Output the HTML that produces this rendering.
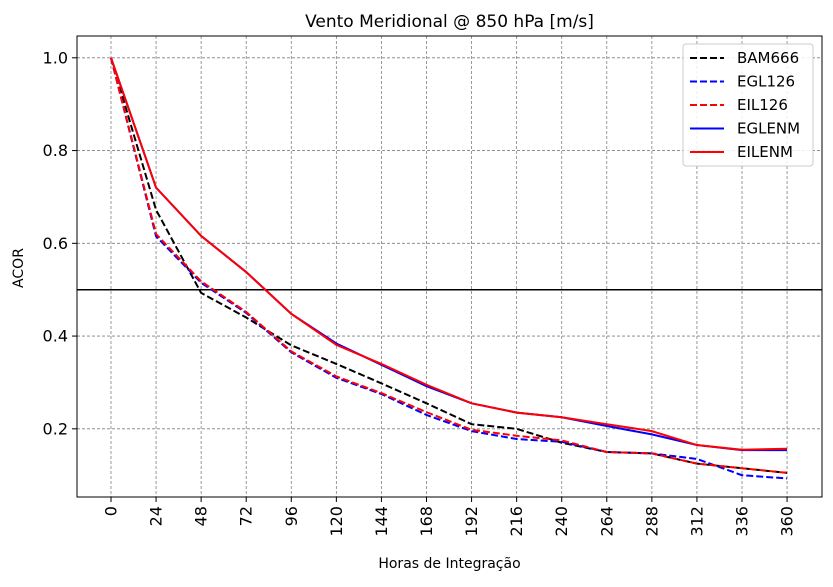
<!DOCTYPE html>
<html><head><meta charset="utf-8"><style>
body{margin:0;background:#fff;font-family:"Liberation Sans","DejaVu Sans",sans-serif}
svg text{font-family:"DejaVu Sans","Liberation Sans",sans-serif}
</style></head><body>
<svg id="c" width="833" height="582" xmlns="http://www.w3.org/2000/svg"></svg>
<script>
const hours=[0,24,48,72,96,120,144,168,192,216,240,264,288,312,336,360];
const yTicks=[0.2,0.4,0.6,0.8,1.0];
const bam666=[1.0,0.672,0.493,0.44,0.38,0.34,0.298,0.255,0.21,0.2,0.17,0.15,0.147,0.125,0.115,0.105];
const egl126=[1.0,0.615,0.515,0.45,0.365,0.31,0.275,0.23,0.195,0.178,0.172,0.15,0.147,0.135,0.1,0.093];
const eil126=[1.0,0.62,0.518,0.452,0.367,0.313,0.277,0.236,0.198,0.185,0.175,0.15,0.147,0.125,0.115,0.105];
const eglenm=[1.0,0.72,0.616,0.538,0.448,0.384,0.338,0.292,0.255,0.235,0.225,0.206,0.188,0.165,0.154,0.154];
const eilenm=[1.0,0.72,0.616,0.538,0.448,0.381,0.34,0.295,0.255,0.235,0.225,0.21,0.195,0.165,0.155,0.157];
const refLine=0.5;
const L=77,R=822,T=36,B=497;
const xmin=-18.1,xmax=378.6,ymin=0.053,ymax=1.047;
const sx=v=>L+(v-xmin)/(xmax-xmin)*(R-L);
const sy=v=>B-(v-ymin)/(ymax-ymin)*(B-T);
const svg=document.getElementById('c');
const NS='http://www.w3.org/2000/svg';
function mk(tag,attrs,parent){const e=document.createElementNS(NS,tag);for(const k in attrs)e.setAttribute(k,attrs[k]);(parent||svg).appendChild(e);return e;}
// grid
hours.forEach(h=>{
 const g=mk('line',{x1:sx(h),x2:sx(h),y1:T,y2:B,stroke:'#808080','stroke-width':0.8,'stroke-dasharray':'3,2'});
 
 
 const t=mk('line',{x1:sx(h),x2:sx(h),y1:B,y2:B+5,stroke:'#000','stroke-width':1});
 
 
 const x=sx(h),y=B+9;
 const lb=mk('text',{x:x,y:y,transform:`rotate(-90 ${x} ${y})`,'text-anchor':'end','dominant-baseline':'central','font-size':16});
 lb.textContent=h;
 
 
});
yTicks.forEach(v=>{
 const g=mk('line',{x1:L,x2:R,y1:sy(v),y2:sy(v),stroke:'#808080','stroke-width':0.8,'stroke-dasharray':'3,2'});
 
 
 const t=mk('line',{x1:L-5,x2:L,y1:sy(v),y2:sy(v),stroke:'#000','stroke-width':1});
 
 
 const lb=mk('text',{x:L-9,y:sy(v),'text-anchor':'end','dominant-baseline':'central','font-size':16});
 lb.textContent=v.toFixed(1);
 
 
});
const rl=mk('line',{x1:L,x2:R,y1:sy(refLine),y2:sy(refLine),stroke:'#000','stroke-width':1.5});


const series=[['bam666',bam666,'#000',true],['egl126',egl126,'#0000ff',true],['eil126',eil126,'#ff0000',true],['eglenm',eglenm,'#0000ff',false],['eilenm',eilenm,'#ff0000',false]];
series.forEach(([n,d,c,dash])=>{
 const p=mk('polyline',{points:d.map((v,i)=>sx(hours[i])+','+sy(v)).join(' '),fill:'none',stroke:c,'stroke-width':2,'stroke-dasharray':dash?'7,3':'none'});
 
 
});
const fr=mk('rect',{x:L,y:T,width:R-L,height:B-T,fill:'none',stroke:'#000','stroke-width':1});


const ti=mk('text',{x:(L+R)/2,y:27,'text-anchor':'middle','font-size':17});
ti.textContent='Vento Meridional @ 850 hPa [m/s]';


const xt=mk('text',{x:(L+R)/2,y:568,'text-anchor':'middle','font-size':14});
xt.textContent='Horas de Integração';


const yt=mk('text',{x:23,y:268,transform:'rotate(-90 23 268)','text-anchor':'middle','font-size':14});
yt.textContent='ACOR';


// legend
const lg=mk('g',{});


mk('rect',{x:683,y:44,width:130,height:122,rx:3,fill:'#fff','fill-opacity':0.85,stroke:'#ccc'},lg);
const names=['BAM666','EGL126','EIL126','EGLENM','EILENM'];
series.forEach(([n,d,c,dash],i)=>{
 const y=58+i*23.5;
 const e=mk('g',{},lg);
 
 
 mk('line',{x1:690,x2:724,y1:y,y2:y,stroke:c,'stroke-width':2,'stroke-dasharray':dash?'7,3':'none'},e);
 const t=mk('text',{x:737,y:y,'dominant-baseline':'central','font-size':15},e);
 t.textContent=names[i];
});
</script>
</body></html>
